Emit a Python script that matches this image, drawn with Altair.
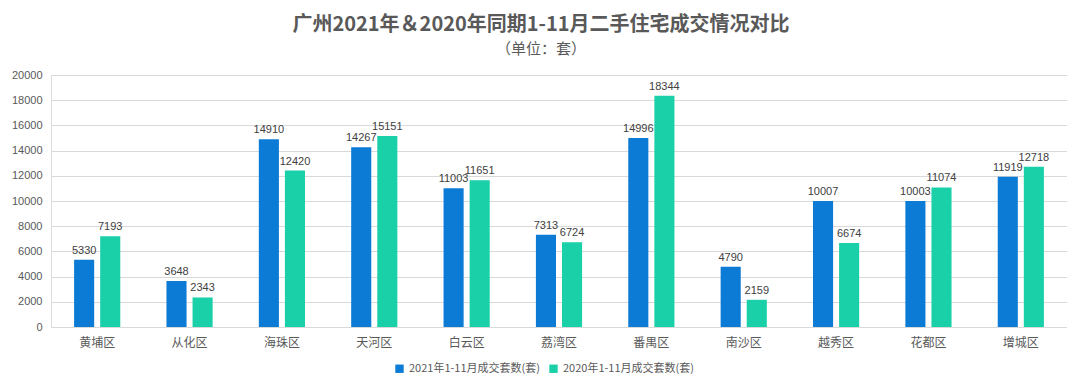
import altair as alt
import pandas as pd

districts = ["黄埔区", "从化区", "海珠区", "天河区", "白云区", "荔湾区",
             "番禺区", "南沙区", "越秀区", "花都区", "增城区"]
s2021 = [5330, 3648, 14910, 14267, 11003, 7313, 14996, 4790, 10007, 10003, 11919]
s2020 = [7193, 2343, 12420, 15151, 11651, 6724, 18344, 2159, 6674, 11074, 12718]
series = ["2021年1-11月成交套数(套)", "2020年1-11月成交套数(套)"]
colors = ["#0b7bd5", "#19d0a8"]
yticks = list(range(0, 20001, 2000))

rows = []
for d, a, b in zip(districts, s2021, s2020):
    rows.append({"区": d, "系列": series[0], "套数": a})
    rows.append({"区": d, "系列": series[1], "套数": b})
df = pd.DataFrame(rows)

FONT = "Noto Sans CJK SC"

base = alt.Chart(df).encode(
    x=alt.X("区:N", sort=districts,
            scale=alt.Scale(paddingInner=0.5, paddingOuter=0.25),
            axis=alt.Axis(title=None, labelAngle=0, ticks=False,
                          domainColor="#d9d9d9", labelFontSize=12,
                          labelColor="#595959", labelPadding=10, labelFont=FONT)),
    xOffset=alt.XOffset("系列:N", sort=series, scale=alt.Scale(paddingInner=0.23)),
    y=alt.Y("套数:Q", scale=alt.Scale(domain=[0, 20000]),
            axis=alt.Axis(title=None, values=yticks, ticks=False, domain=False,
                          format="d",
                          gridColor="#d9d9d9", labelFontSize=11,
                          labelColor="#595959", labelPadding=9,
                          labelFont="Liberation Sans")),
)

bars = base.mark_bar().encode(
    color=alt.Color("系列:N", sort=series,
                    scale=alt.Scale(domain=series, range=colors),
                    legend=alt.Legend(title=None, orient="none", direction="horizontal",
                                      legendX=343, legendY=288,
                                      symbolType="square", symbolSize=70,
                                      labelFontSize=11, labelColor="#595959",
                                      labelFont=FONT, columnPadding=8,
                                      symbolStrokeWidth=0))
)

labels = base.mark_text(baseline="bottom", dy=-4, fontSize=11,
                        color="#404040", font="Liberation Sans").encode(
    text=alt.Text("套数:Q", format="d")
)

chart = (bars + labels).properties(
    width=1016, height=252,
    title=alt.TitleParams(
        text="广州2021年＆2020年同期1-11月二手住宅成交情况对比",
        subtitle="（单位：套）",
        fontSize=20, font=FONT, fontWeight="bold", color="#595959",
        subtitleFontSize=15, subtitleFont=FONT, subtitleColor="#595959",
        subtitlePadding=7, anchor="middle", offset=12, dx=-18,
    ),
    padding={"left": 3, "top": 7, "right": 0, "bottom": 0},
).configure_view(stroke=None).configure(background="white")

chart.save("out.html", embed_options={"renderer": "svg", "actions": False})
